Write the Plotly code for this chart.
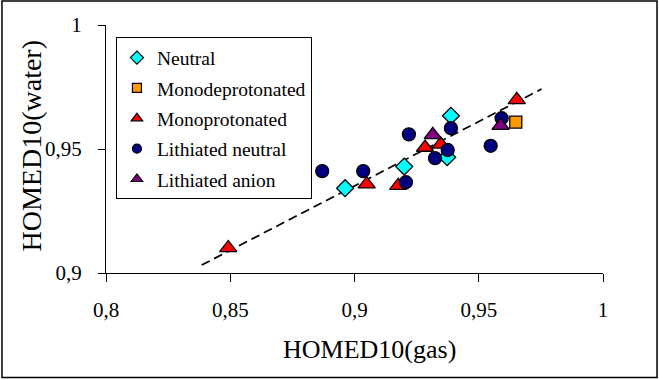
import plotly.graph_objects as go

# ---- data ----
neutral_x = [0.8962, 0.9200, 0.9388, 0.9373]
neutral_y = [0.9342, 0.9429, 0.9634, 0.9467]

monodeprot_x = [0.9649]
monodeprot_y = [0.9608]

monoprot_x = [0.8492, 0.9049, 0.9176, 0.9284, 0.9347, 0.9653]
monoprot_y = [0.9101, 0.9358, 0.9352, 0.9506, 0.9519, 0.9698]

lith_neutral_x = [0.8870, 0.9035, 0.9207, 0.9219, 0.9388, 0.9375, 0.9324, 0.9548, 0.9592]
lith_neutral_y = [0.9411, 0.9411, 0.9366, 0.9559, 0.9584, 0.9496, 0.9463, 0.9513, 0.9624]

lith_anion_x = [0.9315, 0.9588]
lith_anion_y = [0.9557, 0.9594]

trend_x = [0.8385, 0.9753]
trend_y = [0.9032, 0.9742]

x_ticks = [0.8, 0.85, 0.9, 0.95, 1.0]
y_ticks = [0.9, 0.95, 1.0]

FONT = "Liberation Serif, Times New Roman, serif"

series = [
    ("Neutral", neutral_x, neutral_y, "diamond", "#00FFFF", 13, 10),
    ("Monodeprotonated", monodeprot_x, monodeprot_y, "square", "#FF9900", 12, 9),
    ("Monoprotonated", monoprot_x, monoprot_y, "triangle-up", "#FF0000", 15, 10),
    ("Lithiated neutral", lith_neutral_x, lith_neutral_y, "circle", "#000080", 13, 9),
    ("Lithiated anion", lith_anion_x, lith_anion_y, "triangle-up", "#800080", 15, 10),
]

fig = go.Figure()

fig.add_trace(go.Scatter(
    x=trend_x, y=trend_y, mode="lines", showlegend=False, hoverinfo="skip",
    line=dict(color="black", width=1.7, dash="9px,5px"),
))

for name, xs, ys, sym, col, sz, lsz in series:
    fig.add_trace(go.Scatter(
        x=xs, y=ys, mode="markers", name=name, showlegend=False,
        marker=dict(symbol=sym, color=col, size=sz,
                    line=dict(color="black", width=1.3)),
    ))

for i, (name, xs, ys, sym, col, sz, lsz) in enumerate(series):
    fig.add_trace(go.Scatter(
        x=[None], y=[None], mode="markers", name=name, showlegend=True,
        legendgroup=f"g{i}",
        marker=dict(symbol=sym, color=col, size=lsz,
                    line=dict(color="black", width=1.2)),
    ))

fig.update_layout(
    width=659, height=380,
    margin=dict(l=106, r=56, t=25, b=107),
    paper_bgcolor="white", plot_bgcolor="white",
    separators=",.",
    font=dict(family=FONT, color="black", size=20),
    legend=dict(
        x=0.02, y=0.95, xanchor="left", yanchor="top",
        bgcolor="white", bordercolor="black", borderwidth=1,
        font=dict(family=FONT, size=19.5, color="black"),
        itemsizing="trace", tracegroupgap=2,
    ),
    xaxis=dict(
        range=[0.8, 1.0], tickvals=x_ticks, showgrid=False, zeroline=False,
        showline=True, linecolor="black", linewidth=1.3,
        ticks="outside", ticklen=8, tickcolor="black", tickwidth=1.3,
        tickfont=dict(family=FONT, size=21, color="black"),
        ticklabelstandoff=10,
    ),
    yaxis=dict(
        range=[0.9, 1.0], tickvals=y_ticks, showgrid=False, zeroline=False,
        showline=True, linecolor="black", linewidth=1.3,
        ticks="outside", ticklen=7, tickcolor="black", tickwidth=1.3,
        tickfont=dict(family=FONT, size=21, color="black"),
        ticklabelstandoff=12,
    ),
    annotations=[
        dict(text="HOMED10(gas)", xref="paper", yref="paper", x=0.531, y=-0.31,
             xanchor="center", yanchor="middle", showarrow=False,
             font=dict(family=FONT, size=26, color="black")),
        dict(text="HOMED10(water)", xref="paper", yref="paper", x=-0.149, y=0.514,
             xanchor="center", yanchor="middle", showarrow=False, textangle=-90,
             font=dict(family=FONT, size=28, color="black")),
    ],
    shapes=[
        dict(type="rect", xref="paper", yref="paper",
             x0=-0.2093, x1=1.1087, y0=-0.4214, y1=1.0968,
             line=dict(color="black", width=1.5), fillcolor="rgba(0,0,0,0)"),
    ],
)

fig.write_html(
    "out.html",
    config={"displayModeBar": False},
    post_script="document.body.style.margin='0';document.body.style.overflow='hidden';",
)
